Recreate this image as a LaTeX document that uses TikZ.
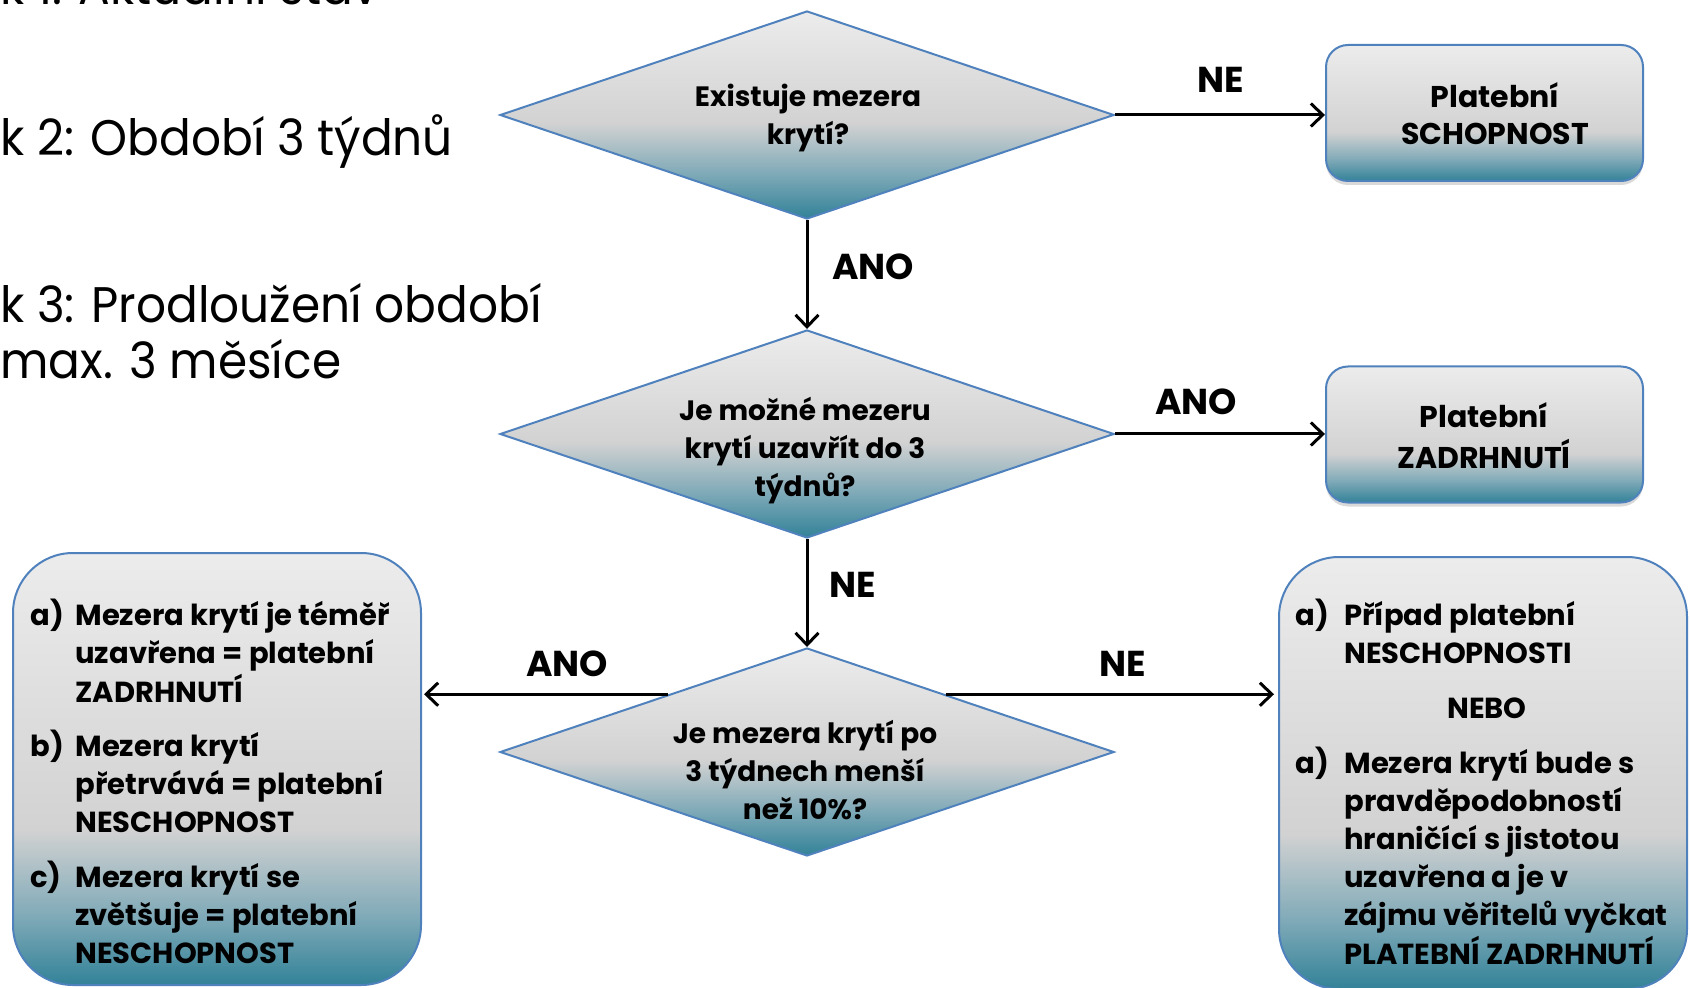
\documentclass[tikz,border=0pt]{standalone}
\usepackage{fontspec}
\setmainfont{Poppins}
\newfontfamily\stfam[FakeStretch=0.94]{Poppins}
\usetikzlibrary{shapes.geometric,arrows.meta,calc,shadows}
\definecolor{tealD}{RGB}{50,130,152}
\definecolor{tealM}{RGB}{128,170,184}
\definecolor{grayM}{RGB}{210,210,210}
\definecolor{grayT}{RGB}{236,236,236}
\definecolor{bdr}{RGB}{79,129,189}
\pgfdeclareverticalshading{dshade}{100bp}{color(0bp)=(tealD); color(25bp)=(tealD); color(36bp)=(tealM); color(48bp)=(grayM); color(75bp)=(grayT); color(100bp)=(grayT)}
\pgfdeclareverticalshading{bshade}{100bp}{color(0bp)=(tealD); color(25bp)=(tealD); color(33bp)=(tealM); color(43bp)=(grayM); color(75bp)=(grayT); color(100bp)=(grayT)}
\newcommand\mylines[2]{\begin{tabular}[t]{@{}#1@{}}#2\end{tabular}}
\newcommand\dfont{\bfseries\fontsize{14}{19}\selectfont}
\newcommand\qfont{\bfseries\fontsize{14.5}{19}\selectfont}
\newcommand\bfnt{\bfseries\fontsize{15}{18.3}\selectfont}
\newcommand\lfont{\bfseries\fontsize{18}{20}\selectfont}
\newcommand\bigfont{\stfam\fontsize{25}{28}\selectfont}
\tikzset{
  dia/.style={diamond, draw=bdr, line width=1pt, shading=dshade, minimum width=307pt, minimum height=104pt, inner sep=0pt},
  smallbox/.style={rectangle, rounded corners=11pt, draw=bdr, line width=1pt, shading=bshade, inner sep=0pt, minimum width=158.5pt, minimum height=68pt, drop shadow={shadow xshift=0pt, shadow yshift=-2pt, opacity=0.15, fill=black}},
  bigbox/.style={rectangle, rounded corners=30pt, draw=bdr, line width=1pt, shading=bshade, inner sep=0pt, minimum width=204pt, minimum height=216pt},
  txt/.style={inner sep=0pt, anchor=base},
  ltxt/.style={inner sep=0pt, anchor=base west},
  arr/.style={line width=1.5pt, -{Straight Barb[length=6pt, width=11.5pt, line width=1.5pt]}},
  lab/.style={inner sep=0pt, anchor=base, font=\lfont}
}
\begin{document}
\begin{tikzpicture}[x=0.5pt, y=-0.5pt]
\useasboundingbox (0,0) rectangle (1690,988);
% left texts
\node[ltxt] (t1) at (0,5) {\bigfont k 1: Aktuální stav};
\node[ltxt] (t2) at (0,156) {\bigfont k 2: Období 3 týdnů};
\node[ltxt] (t3) at (0,323) {\bigfont k 3: Prodloužení období};
\node[ltxt] (t4) at (0,379) {\bigfont max. 3 měsíce};
% diamonds
\node[dia] (d1) at (807,115) {};
\node[dia] (d2) at (807,434) {};
\node[dia] (d3) at (807,752) {};
\node[txt] (d1t) at (808,107) {\dfont\mylines{c}{Existuje mezera\\krytí?}};
\node[txt] (d2t) at (805,421) {\dfont\mylines{c}{Je možné mezeru\\krytí uzavřít do 3\\týdnů?}};
\node[txt] (d3t) at (805,743) {\dfont\mylines{c}{Je mezera krytí po\\3 týdnech menší\\než 10\%?}};
% small boxes
\node[smallbox] (b1) at (1484.5,113) {};
\node[smallbox] (b2) at (1484.5,434.5) {};
\node[txt] (b1t) at (1495,108) {\bfnt\mylines{c}{Platební\\SCHOPNOST}};
\node[txt] (b2t) at (1484,428) {\bfnt\mylines{c}{Platební\\ZADRHNUTÍ}};
% big boxes
\node[bigbox] (bl) at (217,769) {};
\node[bigbox] (br) at (1483,773) {};
\node[ltxt] (la) at (30,625) {\qfont a)};
\node[ltxt] (lat) at (75,625) {\qfont\mylines{l}{Mezera krytí je téměř\\uzavřena = platební\\ZADRHNUTÍ}};
\node[ltxt] (lb) at (30,756) {\qfont b)};
\node[ltxt] (lbt) at (75,756) {\qfont\mylines{l}{Mezera krytí\\přetrvává = platební\\NESCHOPNOST}};
\node[ltxt] (lc) at (30,887) {\qfont c)};
\node[ltxt] (lct) at (75,887) {\qfont\mylines{l}{Mezera krytí se\\zvětšuje = platební\\NESCHOPNOST}};
\node[ltxt] (ra) at (1295,625) {\qfont a)};
\node[ltxt] (rat) at (1344,625) {\qfont\mylines{l}{Případ platební\\NESCHOPNOSTI}};
\node[txt] (rnebo) at (1487,718) {\qfont NEBO};
\node[ltxt] (rb) at (1295,773) {\qfont a)};
\node[ltxt] (rbt) at (1344,773) {\qfont\mylines{l}{Mezera krytí bude s\\pravděpodobností\\hraničící s jistotou\\uzavřena a je v\\zájmu věřitelů vyčkat\\PLATEBNÍ ZADRHNUTÍ}};
% connectors
\draw[arr] (d1.east) -- (d1.east -| b1.west);
\draw[arr] (d1.south) -- (d2.north);
\draw[arr] (d2.east) -- (d2.east -| b2.west);
\draw[arr] (d2.south) -- (d3.north);
\coordinate (d3l) at ($(d3.north)!0.45!(d3.west)$);
\coordinate (d3r) at ($(d3.north)!0.45!(d3.east)$);
\draw[arr, shorten >=1pt] (d3l) -- (d3l -| bl.east);
\draw[arr, shorten >=2pt] (d3r) -- (d3r -| br.west);
% labels
\node[lab] (l1) at (1221,93) {NE};
\node[lab] (l2) at (873,280) {ANO};
\node[lab] (l3) at (1196,415) {ANO};
\node[lab] (l4) at (853,597) {NE};
\node[lab] (l5) at (567,676) {ANO};
\node[lab] (l6) at (1123,676) {NE};
\end{tikzpicture}
\end{document}
